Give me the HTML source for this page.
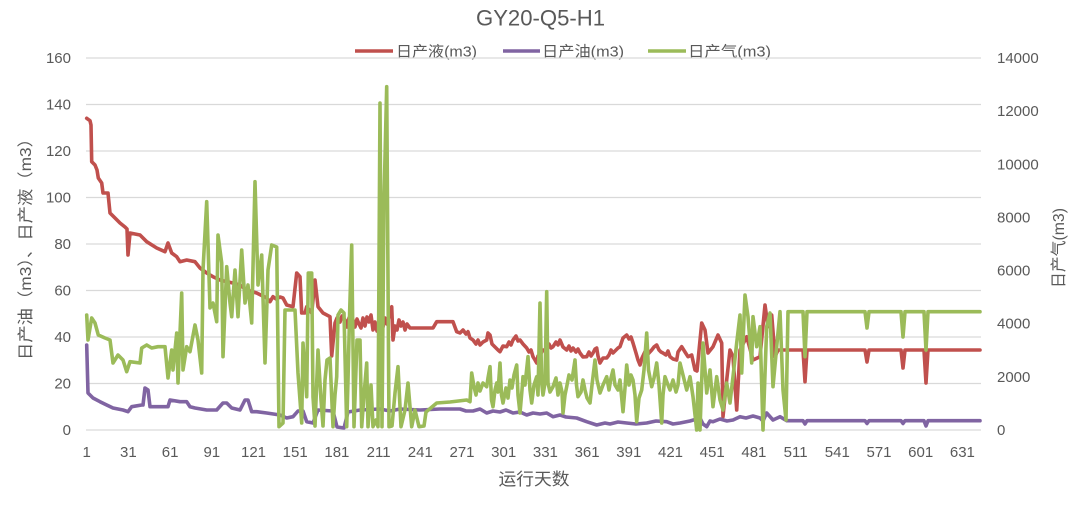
<!DOCTYPE html>
<html>
<head>
<meta charset="utf-8">
<style>
html,body{margin:0;padding:0;background:#fff;}
svg{display:block;}
text{font-family:"Liberation Sans","Noto Sans CJK SC",sans-serif;fill:#595959;}
</style>
</head>
<body>
<svg width="1080" height="528" viewBox="0 0 1080 528" xmlns="http://www.w3.org/2000/svg">
<rect width="1080" height="528" fill="#fff"/>
<text x="540.5" y="25.5" font-size="22" text-anchor="middle" textLength="129" lengthAdjust="spacingAndGlyphs">GY20-Q5-H1</text>

<!-- legend -->
<line x1="355" y1="51" x2="393" y2="51" stroke="#C0504D" stroke-width="3.5"/>
<text x="396" y="56.5" font-size="15" textLength="81" lengthAdjust="spacingAndGlyphs">日产液(m3)</text>
<line x1="503" y1="51" x2="540" y2="51" stroke="#8064A2" stroke-width="3.5"/>
<text x="542" y="56.5" font-size="15" textLength="82" lengthAdjust="spacingAndGlyphs">日产油(m3)</text>
<line x1="648" y1="51" x2="686" y2="51" stroke="#9BBB59" stroke-width="3.5"/>
<text x="688" y="56.5" font-size="15" textLength="83" lengthAdjust="spacingAndGlyphs">日产气(m3)</text>

<!-- gridlines -->
<g stroke="#D9D9D9" stroke-width="1.2">
<line x1="86" y1="58" x2="981" y2="58"/>
<line x1="86" y1="104.5" x2="981" y2="104.5"/>
<line x1="86" y1="151" x2="981" y2="151"/>
<line x1="86" y1="197.5" x2="981" y2="197.5"/>
<line x1="86" y1="244" x2="981" y2="244"/>
<line x1="86" y1="290.5" x2="981" y2="290.5"/>
<line x1="86" y1="337" x2="981" y2="337"/>
<line x1="86" y1="383.5" x2="981" y2="383.5"/>
<line x1="86" y1="430" x2="981" y2="430"/>
</g>

<!-- left tick labels -->
<g font-size="15" text-anchor="end">
<text x="71" y="63">160</text>
<text x="71" y="109.5">140</text>
<text x="71" y="156">120</text>
<text x="71" y="202.5">100</text>
<text x="71" y="249">80</text>
<text x="71" y="295.5">60</text>
<text x="71" y="342">40</text>
<text x="71" y="388.5">20</text>
<text x="71" y="435">0</text>
</g>

<!-- right tick labels -->
<g font-size="15">
<text x="997" y="63">14000</text>
<text x="997" y="116.1">12000</text>
<text x="997" y="169.3">10000</text>
<text x="997" y="222.4">8000</text>
<text x="997" y="275.6">6000</text>
<text x="997" y="328.7">4000</text>
<text x="997" y="381.9">2000</text>
<text x="997" y="435">0</text>
</g>

<!-- x tick labels -->
<g font-size="15" text-anchor="middle">
<text x="86.7" y="457">1</text>
<text x="128.4" y="457">31</text>
<text x="170.1" y="457">61</text>
<text x="211.8" y="457">91</text>
<text x="253.5" y="457">121</text>
<text x="295.2" y="457">151</text>
<text x="336.9" y="457">181</text>
<text x="378.6" y="457">211</text>
<text x="420.3" y="457">241</text>
<text x="462" y="457">271</text>
<text x="503.7" y="457">301</text>
<text x="545.4" y="457">331</text>
<text x="587.1" y="457">361</text>
<text x="628.8" y="457">391</text>
<text x="670.5" y="457">421</text>
<text x="712.2" y="457">451</text>
<text x="753.9" y="457">481</text>
<text x="795.6" y="457">511</text>
<text x="837.3" y="457">541</text>
<text x="879" y="457">571</text>
<text x="920.7" y="457">601</text>
<text x="962.4" y="457">631</text>
</g>

<text x="534" y="485" font-size="17" text-anchor="middle" textLength="71" lengthAdjust="spacingAndGlyphs">运行天数</text>
<text transform="translate(31,245) rotate(-90)" font-size="16" text-anchor="middle" textLength="230" lengthAdjust="spacingAndGlyphs">日产油（m3）、日产液（m3）</text>
<text transform="translate(1064,248) rotate(-90)" font-size="16" text-anchor="middle" textLength="80" lengthAdjust="spacingAndGlyphs">日产气(m3)</text>

<g fill="none" stroke-width="3.6" stroke-linejoin="round" stroke-linecap="round">
<!-- red: liquid -->
<polyline stroke="#C0504D" points="86.7,118.3 90,120.7 91,125 91.7,161.7 95,165 97,170 98.3,178 101.7,183 103,193 108,193 110,213 115,218 120,223 125,227 127,229 128,255 130,233 140,235 146.7,241.7 156.7,248 165,251.7 168,243 171.7,253 176.7,256.7 180,261.7 186.7,260 195,261.7 200,268 206.7,273 213,276.7 220,280 226.7,281.7 233,283 240,285 246.7,290 256.7,293 266.7,298 270,301.7 273,296.7 276,299 280,297 283,298 286.7,305 293,306.7 296.7,273 300,276.7 301.7,313 305,313 306.7,306.7 311.7,313 315,280 318,306.7 323,313 330,316.7 331.7,356 335,323 337,318 340,322 342,316 345,320 347,327 349,318 351,326 353,320 355,327 357,319 359,324 361,328 363,318 365,326 367,317 369,322 371,315 373,330 375,322 377,331 379,324 381,320 383,327 385,318 387,324 389,316 391.7,306.7 393,340 395,326 397,330 399,320 401,326 403,322 405,330 407,324 410,328 433,328 436.7,321.7 453,321.7 456.7,331.7 460,333 463,330 466,334 468,331.7 470,338 473,340 476,344 478,340 480,345 483,342 486.7,340 488,333 490,335 492,344 495,347 498,350 500,351.7 503,346 506.7,346.7 509,342 511,345 513,340 516,336 518,341 520,340 523,344 526.7,348 529,352 531,350 533,356.7 535,360 536.7,363 538,356 540,355 543,350 546.7,350 549,344 551,348 553,346.7 556,342 558,345 560,340 563,347 566.7,350 569,346 571,351 573,348 576,352 578,349 580,353 583,357 586.7,356.7 589,352 591,356 593,353 595,349 596.7,348 598,356 600,363 603,358 606.7,358 609,355 611,350 613,353 616,350 618,348 620,346.7 623,338 626.7,335 629,339 631,337 633,343 636,353 638,360 640,365 642,358 645,351.7 648,354 651.7,350 654,347 656.7,345 659,350 661,352 663,353 666,355 668,351 670,356.7 673,359 676.7,360 678,352 681.7,346.7 685,352 688,356.7 691.7,355 695,370 697,371 701.7,323 705,330 708,353 713,346.7 718,335 721.7,343 723,416.7 726.7,380 730,350 733,356.7 736.7,410 740,350 746.7,336.7 753,360 760,356.7 765,305 768,326.7 771.7,315 775,356.7 778,350 783,350 803,350 805,381.7 807,350 865,350 867,362 869,350 901,350 903,368 905,350 924,350 926,383 928,350 980,350"/>
<!-- purple: oil -->
<polyline stroke="#8064A2" points="86.7,345 88,393 93,398 100,401.7 106.7,405 113,408 123,410 128,411.7 131.7,406.7 141.7,405 143,405 145,388 148,390 150,406.7 168,406.7 170,400 180,401.7 186.7,401.7 190,406.7 195,408 206.7,410 216.7,410 223,403 226.7,403 231.7,408 240,410 245,400 248,400 251.7,411.7 256.7,411.7 266.7,413 280,415 286.7,418 293,416.7 298,411 303,411 306.7,421.7 313,423 318,410 333,411 337,427 344,428 348,412 360,410 380,409 390,411 400,409 420,410 440,409 460,409 466,411 473,411 480,409 486.7,413 493,411 500,412 506,410 513,413 520,412 526.7,415 533,413 540,414 546.7,413 553,416.7 560,415 566,417 576.7,418 586.7,421.7 596.7,425 605,423 610,424 618,422 626.7,423 636,424 646.7,423 656,421 666.7,421.7 673,424 680,423 690,421 700,418 703,424 706.7,426.7 710,421 713,421.7 720,419 727,421 733,420 740,416.7 746,418 753,416 760,418 763,421 766.7,413 773,420 780,416.7 786.7,420.7 803,420.7 805,424 807,420.7 865,420.7 867,423.5 869,420.7 901,420.7 903,423.5 905,420.7 924,420.7 926,426 928,420.7 980,420.7"/>
<!-- green: gas -->
<polyline stroke="#9BBB59" points="86.7,315 88,340 91.7,318 95,323 98.3,335 105,338 110,340 113,363 118,355 123,360 126.7,371.7 130,361.7 140,363 141.7,348 146.7,345 151.7,348 158,346.7 165,346.7 168,378 171.7,350 173,370 176.7,333 178,383 180,333 181.7,293 183,370 186.7,346.7 190,351.7 195,325 198,340 201.7,373 203,270 206.7,201.7 210,308 213,303 216.7,321.7 218,235 221.7,263 223,356.7 226.7,266.7 230,303 231.7,316.7 235,270 238,316.7 241.7,250 245,303 248,285 251.7,323 255,181.7 258,285 261.7,255 265,363 268,270 271.7,245 276.7,247 279,426.7 283,423 285,310 295,310 298,373 301.7,423 303,343 306.7,396.7 308.3,273 311.7,273 313,397 315,426 318,350 321,400 323,426 325,380 327,360 330,358 333,426.7 335,395 336.7,376.7 338,315 341,310 344,313 346.7,426.7 348,380 349.7,310 351.7,245 354,426.7 357,340 360,340 361.7,426.7 364,395 366.7,363 368,426.7 371,385 373,426.7 376,420 378,426.7 380,103 382,426.7 384,200 386.7,86.7 389,426.7 392,426 395,393 398,366.7 401,426.7 405,410 408,383 411.7,426.7 415,410 419,426.7 424,426 426,412 436.7,403 450,402 466.7,400 470,401.7 471.7,373 474,386.7 476,395 478,383 480,391 483,383 486.7,386.7 488,378 490,366.7 491.5,400 493,406.7 495,390 496.7,383 498,392 500,363 501.5,395 503,403 506,388 508,398 510,380 512,388 514,375 516.7,365 518,395 520,413 522,390 523,376.7 525,385 528,356.7 530,390 531.7,403 534,385 536.7,376.7 538,395 540,303 541.7,383 543,395 545,383 546.7,291.7 548,383 550,392 553,386.7 556,378 558,395 560,383 562,392 563,413 565,395 566.7,386.7 569,375 572,380 575,360 576.5,385 578,396.7 581,392 583,380 585,390 587,398 590,403 592,385 595,360 597,380 600,393 603,385 606.7,376.7 609,390 611,378 613,370 615,385 618,390 620,380 623,411.7 625,388 626.7,365 629,385 631,375 633,380 635,395 636.7,421.7 639,398 641.7,390 644,370 646.7,333 648.5,370 651.7,386.7 654,378 656.7,363 659,385 661.7,423 663,395 665,376.7 668,385 670,390 673,380 676,392 678,385 680,363 686.7,390 690,376.7 693,396.7 696.7,430 698,383 700,430 703,343 706.7,393 710,370 713,406.7 716.7,376.7 720,400 723,410 726.7,383 730,403 733,376.7 736.7,343 740,315 741.7,373 745,295 748,316.7 751.7,363 753,316.7 756.7,346.7 760,326.7 763,430 766.7,326.7 770,313 773,386.7 776.7,346.7 780,311.7 783,390 786,420 788,311.7 803,311.7 805,356.7 807,311.7 865,311.7 867,328 869,311.7 901,311.7 903,337 905,311.7 924,311.7 926,350 928,311.7 980,311.7"/>
</g>
</svg>
</body>
</html>
